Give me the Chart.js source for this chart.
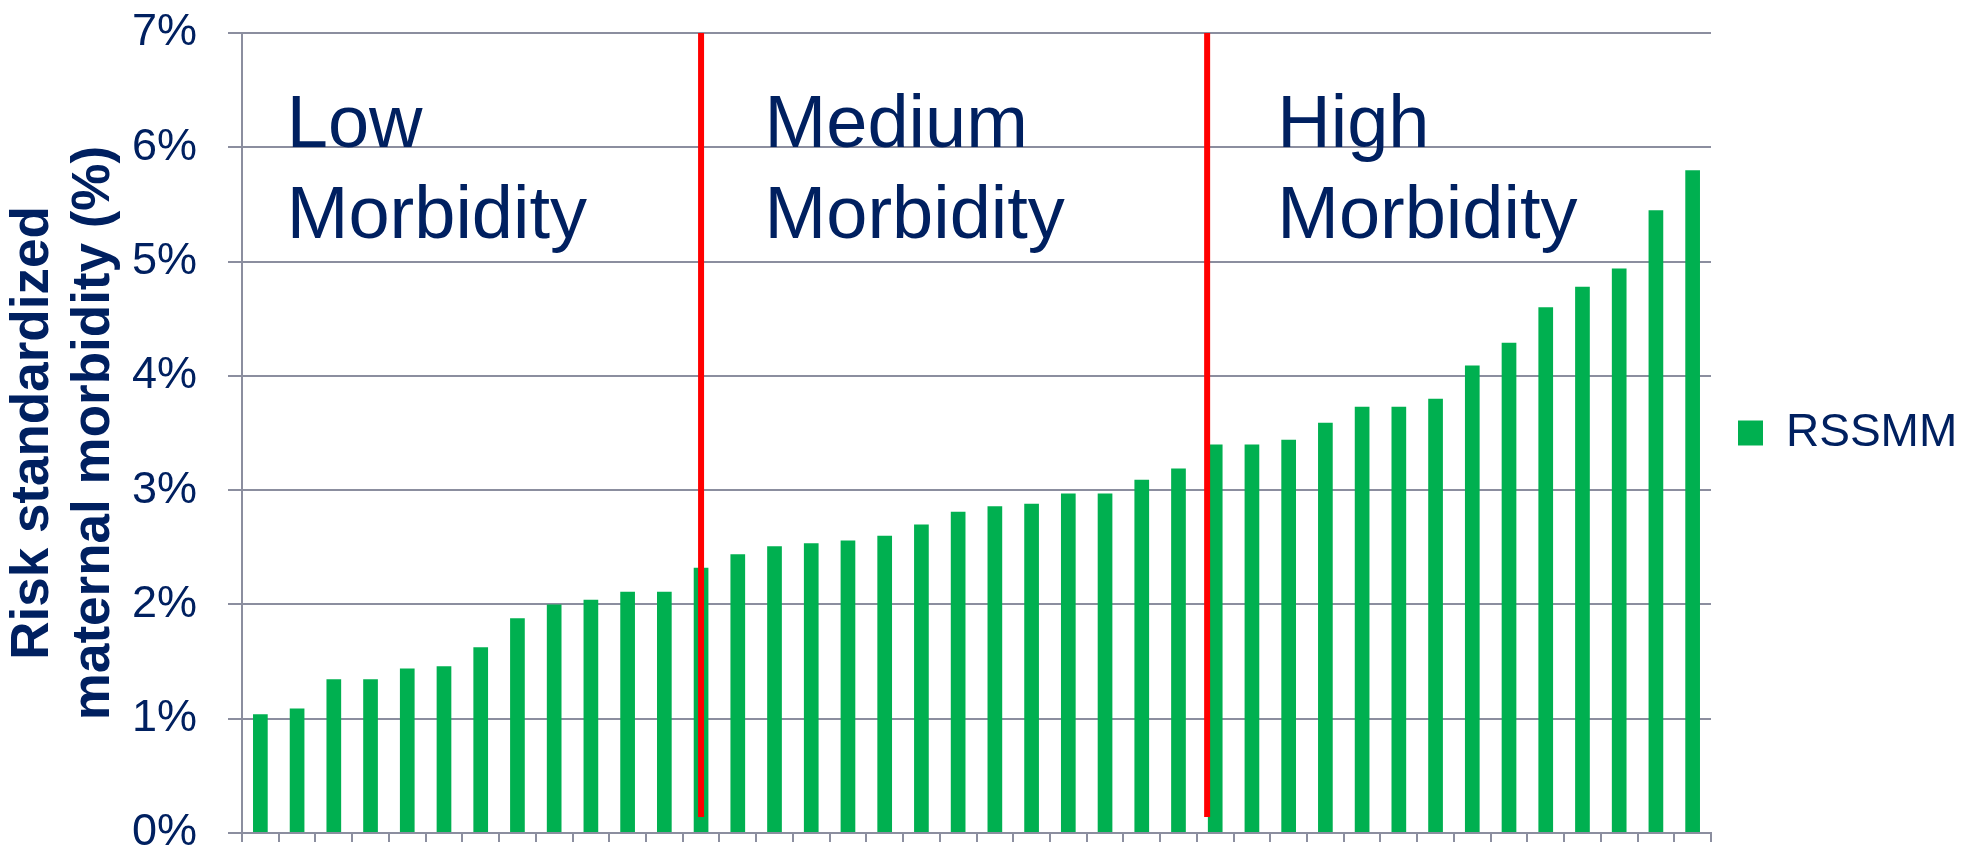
<!DOCTYPE html>
<html>
<head>
<meta charset="utf-8">
<title>RSSMM</title>
<script src="https://cdn.jsdelivr.net/npm/chart.js@4.4.1/dist/chart.umd.min.js"></script>
<style>
  html, body { margin: 0; padding: 0; background: #fff; }
  #wrap { width: 1965px; height: 851px; }
</style>
</head>
<body>
<div id="wrap"><canvas id="rssmmChart"></canvas></div>
<script>
// hospitals ranked by risk standardized severe maternal morbidity
const hospitals = [
  "1", "2", "3", "4", "5", "6", "7", "8", "9", "10",
  "11", "12", "13", "14", "15", "16", "17", "18", "19", "20",
  "21", "22", "23", "24", "25", "26", "27", "28", "29", "30",
  "31", "32", "33", "34", "35", "36", "37", "38", "39", "40"
];

// RSSMM in percent
const rssmm = [
  1.04, 1.09, 1.345, 1.345, 1.44, 1.46, 1.625, 1.88, 2.00, 2.04,
  2.11, 2.11, 2.32, 2.44, 2.51, 2.535, 2.56, 2.60, 2.70, 2.81,
  2.86, 2.88, 2.97, 2.97, 3.09, 3.19, 3.40, 3.40, 3.44, 3.59,
  3.73, 3.73, 3.80, 4.09, 4.29, 4.60, 4.78, 4.94, 5.45, 5.80
];

const yTitle = ["Risk standardized", "maternal morbidity (%)"];

// morbidity groups: label lines, category index where the label starts
const groupNames = [["Low", "Morbidity"], ["Medium", "Morbidity"], ["High", "Morbidity"]];
const groupStart = [0.72, 13.73, 27.69];
const groupLabelAt = 6; // first line baseline, in %

// red cut-offs between groups (category index) and their vertical extent (%)
const dividers = [12, 25.78];
const dividerRange = [0.14, 7];

const navy = "#002060";
const gridColor = "#8b8e9f";
const family = '"Liberation Sans", Arial, sans-serif';

const groupMarkers = {
  id: "groupMarkers",
  afterDatasetsDraw(chart) {
    const { ctx, scales: { x, y } } = chart;
    ctx.save();
    ctx.strokeStyle = "#ff0000";
    ctx.lineWidth = 6;
    dividers.forEach((d) => {
      const px = x.getPixelForValue(d);
      ctx.beginPath();
      ctx.moveTo(px, y.getPixelForValue(dividerRange[1]));
      ctx.lineTo(px, y.getPixelForValue(dividerRange[0]));
      ctx.stroke();
    });

    ctx.fillStyle = navy;
    ctx.font = "74px " + family;
    ctx.textAlign = "left";
    ctx.textBaseline = "alphabetic";
    groupNames.forEach((lines, i) => {
      const px = x.getPixelForValue(groupStart[i]);
      const py = y.getPixelForValue(groupLabelAt);
      lines.forEach((t, j) => ctx.fillText(t, px, py + j * 90.5));
    });
    ctx.restore();
  }
};

new Chart(document.getElementById("rssmmChart"), {
  type: "bar",
  data: {
    labels: hospitals,
    datasets: [
      {
        label: "RSSMM",
        data: rssmm,
        backgroundColor: "#00b050",
        borderWidth: 0,
        barPercentage: 0.4,
        categoryPercentage: 1.0
      }
    ]
  },
  options: {
    responsive: true,
    maintainAspectRatio: false,
    animation: false,
    devicePixelRatio: 1,
    layout: { padding: { top: 33, right: 0, bottom: 18, left: 0 } },
    plugins: {
      legend: {
        position: "right",
        maxWidth: 254,
        labels: {
          boxWidth: 25,
          boxHeight: 25,
          padding: 27,
          color: navy,
          font: { size: 46, family: family }
        }
      },
      tooltip: { enabled: false }
    },
    scales: {
      x: {
        offset: true,
        grid: {
          display: true,
          drawOnChartArea: false,
          drawTicks: true,
          tickLength: 9,
          color: gridColor,
          lineWidth: 2,
          offset: true
        },
        border: { display: true, color: gridColor, width: 2 },
        ticks: { display: false },
        afterFit(scale) {
          scale.height = 0;
          scale.paddingLeft = 0;
          scale.paddingRight = 0;
        }
      },
      y: {
        min: 0,
        max: 7,
        ticks: {
          stepSize: 1,
          callback: (v) => v + "%",
          color: navy,
          font: { size: 45, family: family },
          padding: 31
        },
        grid: { color: gridColor, lineWidth: 2, tickLength: 14 },
        border: { display: true, color: gridColor, width: 2 },
        title: {
          display: true,
          text: yTitle,
          color: navy,
          font: { size: 53, weight: "bold", family: family, lineHeight: 1.15 },
          padding: { top: 3, bottom: 0 }
        },
        afterFit(scale) {
          scale.width = 242;
          scale.paddingTop = 0;
          scale.paddingBottom = 0;
        }
      }
    }
  },
  plugins: [groupMarkers]
});
</script>
</body>
</html>
